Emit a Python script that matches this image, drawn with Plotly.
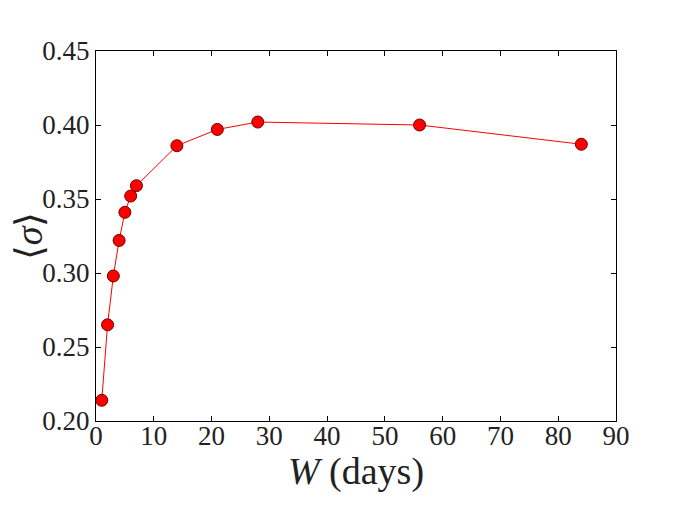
import plotly.graph_objects as go

window_days = [1, 2, 3, 4, 5, 6, 7, 14, 21, 28, 56, 84]
mean_sigma = [0.214, 0.265, 0.298, 0.322, 0.341, 0.352, 0.359, 0.386, 0.397, 0.402, 0.400, 0.387]
x_ticks = [0, 10, 20, 30, 40, 50, 60, 70, 80, 90]
y_ticks = [0.20, 0.25, 0.30, 0.35, 0.40, 0.45]

fig = go.Figure()
fig.add_trace(go.Scatter(
    x=window_days, y=mean_sigma, mode="lines+markers",
    line=dict(color="red", width=1),
    marker=dict(size=12, color="red", line=dict(color="#700000", width=1)),
    showlegend=False,
))

font_family = "Liberation Serif"
axis_common = dict(
    showgrid=False, zeroline=False, showline=True, linecolor="black", linewidth=1.2,
    mirror="ticks", ticks="inside", ticklen=5, tickcolor="black", automargin=False,
    tickfont=dict(family=font_family, size=27, color="#222"),
)
fig.update_xaxes(range=[0, 90], tickvals=x_ticks, ticktext=[str(v) for v in x_ticks],
                 ticklabelstandoff=-10,
                 title=dict(text="<i>W</i> (days)", font=dict(family=font_family, size=38, color="#222"), standoff=0),
                 **axis_common)
fig.update_yaxes(range=[0.20, 0.45], tickvals=y_ticks, ticktext=[f"{v:.2f}" for v in y_ticks],
                 title=dict(text="⟨<i>σ</i>⟩", font=dict(family=font_family, size=38, color="#222"), standoff=15),
                 **axis_common)
fig.update_layout(
    width=685, height=514,
    margin=dict(l=88, r=77, t=43, b=101),
    plot_bgcolor="white", paper_bgcolor="white",
)
fig.write_html("out.html")
